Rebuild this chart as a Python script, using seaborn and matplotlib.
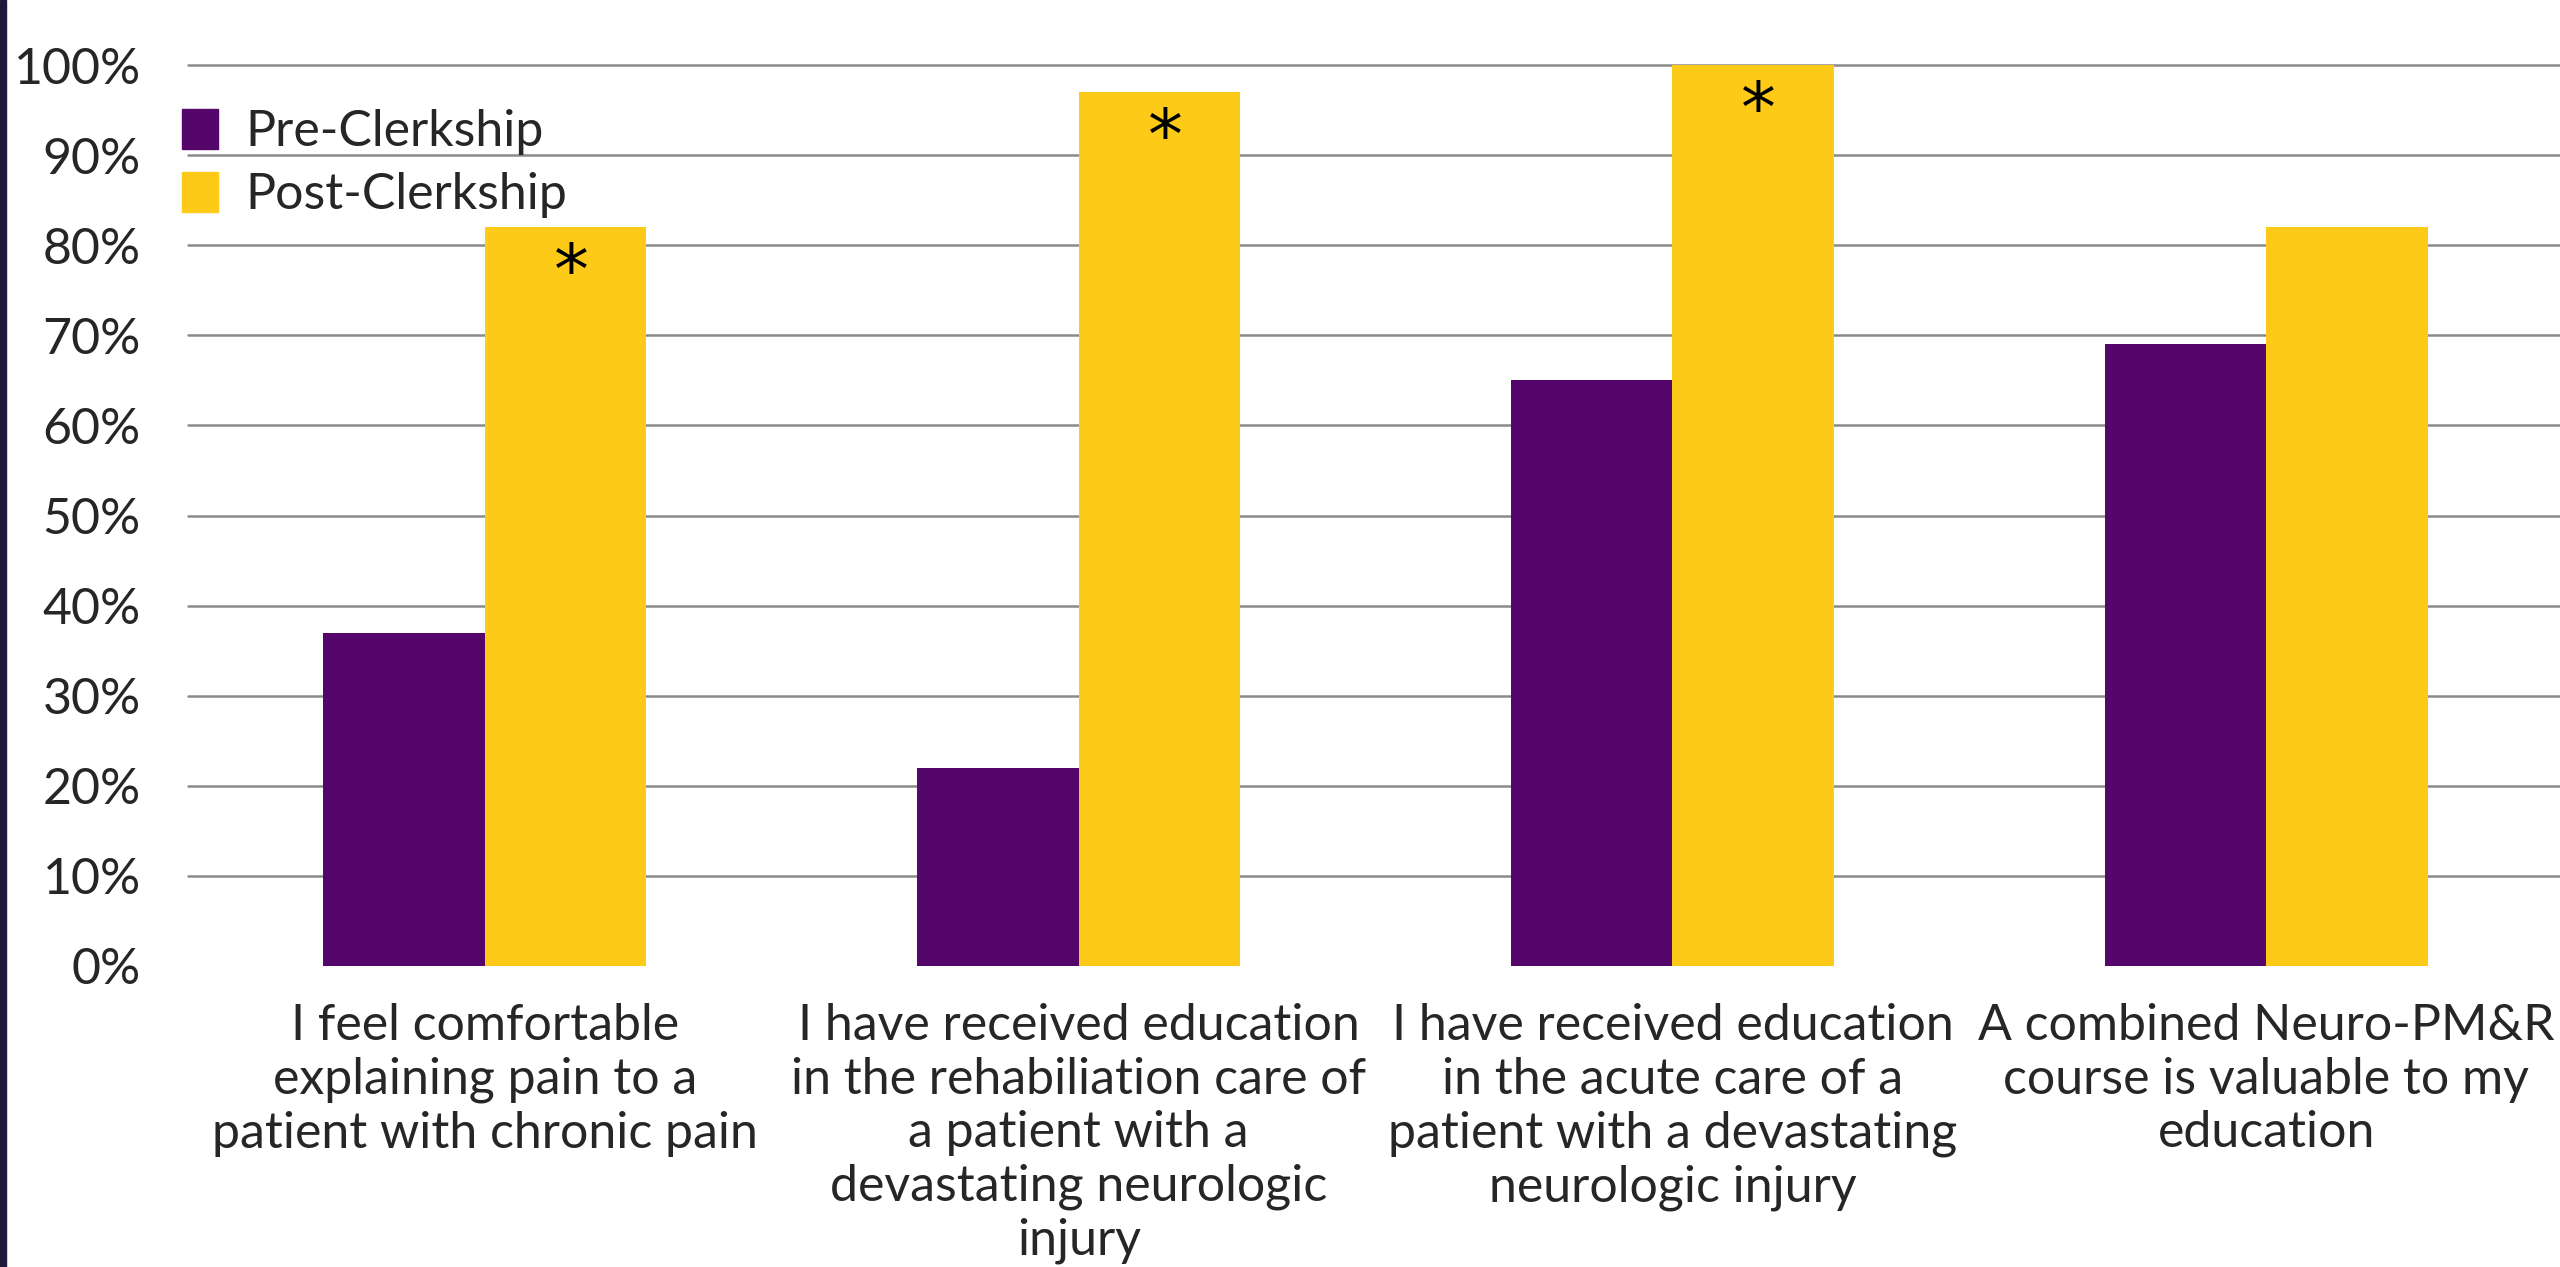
import matplotlib
matplotlib.use("Agg")
import matplotlib.pyplot as plt
from matplotlib.patches import Rectangle
import seaborn as sns
import pandas as pd

categories = [
    "I feel comfortable\nexplaining pain to a\npatient with chronic pain",
    "I have received education\nin the rehabiliation care of\na patient with a\ndevastating neurologic\ninjury",
    "I have received education\nin the acute care of a\npatient with a devastating\nneurologic injury",
    "A combined Neuro-PM&R\ncourse is valuable to my\neducation",
]
series_names = ["Pre-Clerkship", "Post-Clerkship"]
pre_values = [37, 22, 65, 69]
post_values = [82, 97, 100, 82]
significant = [True, True, True, False]
y_ticks = [0, 10, 20, 30, 40, 50, 60, 70, 80, 90, 100]
y_tick_labels = [f"{v}%" for v in y_ticks]

colors = {"Pre-Clerkship": "#55066A", "Post-Clerkship": "#FDCA18"}

rows = []
for c, a, b in zip(categories, pre_values, post_values):
    rows.append({"category": c, "period": series_names[0], "value": a})
    rows.append({"category": c, "period": series_names[1], "value": b})
df = pd.DataFrame(rows)

sns.set_theme(style="white")
plt.rcParams["font.family"] = ["Lato", "DejaVu Sans"]
FS = 36

fig = plt.figure(figsize=(25.6, 12.67), dpi=100)
fig.patch.set_facecolor("white")
ax = fig.add_axes([188 / 2560, 1 - 966 / 1267, (2563 - 188) / 2560, (966 - 65) / 1267])

sns.barplot(data=df, x="category", y="value", hue="period", hue_order=series_names,
            order=categories, palette=colors, width=0.544, saturation=1,
            errorbar=None, ax=ax, linewidth=0)

ax.set_ylim(0, 100)
ax.set_xlim(-0.5, len(categories) - 0.5)
ax.set_yticks(y_ticks)
ax.set_yticklabels(y_tick_labels, fontsize=FS)
ax.set_xticks(range(len(categories)))
ax.set_xticklabels(categories, fontsize=FS, linespacing=1.2)
ax.set_xlabel("")
ax.set_ylabel("")
ax.tick_params(axis="both", length=0)
ax.tick_params(axis="y", pad=34)
ax.tick_params(axis="x", pad=27)
for sp in ax.spines.values():
    sp.set_visible(False)
ax.set_axisbelow(True)
ax.yaxis.grid(True, color="#8a8a8a", linewidth=1.8)
ax.xaxis.grid(False)
gl = ax.get_ygridlines()
gl[0].set_visible(False)
for g in gl:
    g.set_clip_on(False)

# asterisks on post bars
post_container = ax.containers[1]
for patch, sig in zip(post_container.patches, significant):
    if sig:
        xc = patch.get_x() + patch.get_width() / 2
        ax.annotate("*", xy=(xc, patch.get_height()), xytext=(4, -10),
                    textcoords="offset points", ha="center", va="top",
                    fontsize=50, color="black", family="DejaVu Sans")

# legend
handles = [Rectangle((0, 0), 1, 1, color=colors[s]) for s in series_names]
if ax.get_legend() is not None:
    ax.get_legend().remove()
fig.legend(handles, series_names, loc="upper left",
           bbox_to_anchor=(182 / 2560, 1 - 109 / 1267), frameon=False,
           fontsize=FS, handlelength=0.72, handleheight=0.85, handletextpad=0.55,
           labelspacing=0.33, borderpad=0, borderaxespad=0)

# dark left border
fig.add_artist(Rectangle((0, 0), 6 / 2560, 1, transform=fig.transFigure,
                         color="#1e1a3a", zorder=10))

fig.savefig("out.png", dpi=100, facecolor="white")
